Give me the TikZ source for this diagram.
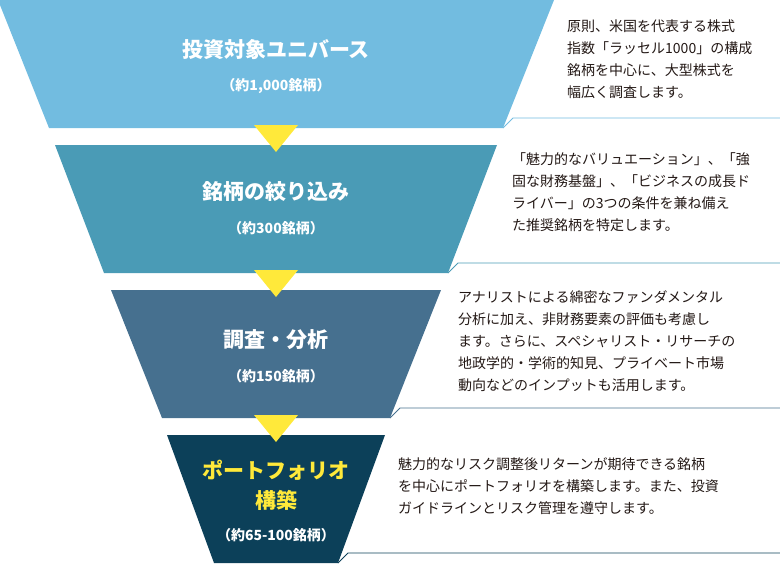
\documentclass[tikz,border=0pt]{standalone}
\usepackage{fontspec}
\setmainfont{Noto Sans CJK JP}
\usetikzlibrary{positioning}
\definecolor{lvA}{HTML}{72BCE0}
\definecolor{lvB}{HTML}{4A9BB6}
\definecolor{lvC}{HTML}{46708F}
\definecolor{lvD}{HTML}{0C4059}
\definecolor{arrowY}{HTML}{FFE93A}
\definecolor{descText}{HTML}{231815}
\tikzset{
  title/.style={text=white, font=\bfseries\fontsize{21}{25}\selectfont, align=center},
  subtitle/.style={text=white, font=\bfseries\fontsize{14}{17}\selectfont},
  desc/.style={text=descText, anchor=north west, align=left, inner sep=0pt, font=\fontsize{14}{22}\selectfont},
}
\begin{document}
\begin{tikzpicture}[x=1pt,y=-1pt]
\useasboundingbox (0,0) rectangle (780,566);

% funnel levels: colour / top y / top half width / bottom half width
\foreach \c/\t/\wt/\wb in {lvA/0/278/227, lvB/145/221/172, lvC/290/165/114, lvD/435/109/62} {
  \fill[\c] (276-\wt,\t) -- (276+\wt,\t) -- (276+\wb,\t+128) -- (276-\wb,\t+128) -- cycle;
  \draw[\c, line width=0.8pt] (276+\wb,\t+128) -- (286+\wb,\t+118) -- (780,\t+118);
}

% yellow pointers
\foreach \t in {125, 270, 415} {
  \fill[arrowY] (254,\t) -- (298,\t) -- (276,\t+27) -- cycle;
}

% titles
\node[title] (univ) at (276,50) {投資対象ユニバース};
\node[subtitle] (univN) at (276,86) {（約1,000銘柄）};
\node[title] (screen) at (276,192) {銘柄の絞り込み};
\node[subtitle] (screenN) at (276,228) {（約300銘柄）};
\node[title] (anal) at (276,340) {調査・分析};
\node[subtitle] (analN) at (276,376) {（約150銘柄）};
\node[title, text=arrowY, font=\bfseries\fontsize{21}{30}\selectfont] (port) at (276,485) {ポートフォリオ\\構築};
\node[subtitle] (portN) at (276,535) {（約65-100銘柄）};

% descriptions
\node[desc] (univD) at (567,20) {原則、米国を代表する株式\\指数「ラッセル1000」の構成\\銘柄を中心に、大型株式を\\幅広く調査します。};
\node[desc] (screenD) at (512,152) {「魅力的なバリュエーション」、「強\\固な財務基盤」、「ビジネスの成長ド\\ライバー」の3つの条件を兼ね備え\\た推奨銘柄を特定します。};
\node[desc] (analD) at (458,290) {アナリストによる綿密なファンダメンタル\\分析に加え、非財務要素の評価も考慮し\\ます。さらに、スペシャリスト・リサーチの\\地政学的・学術的知見、プライベート市場\\動向などのインプットも活用します。};
\node[desc] (portD) at (398,457) {魅力的なリスク調整後リターンが期待できる銘柄\\を中心にポートフォリオを構築します。また、投資\\ガイドラインとリスク管理を遵守します。};
\end{tikzpicture}
\end{document}
